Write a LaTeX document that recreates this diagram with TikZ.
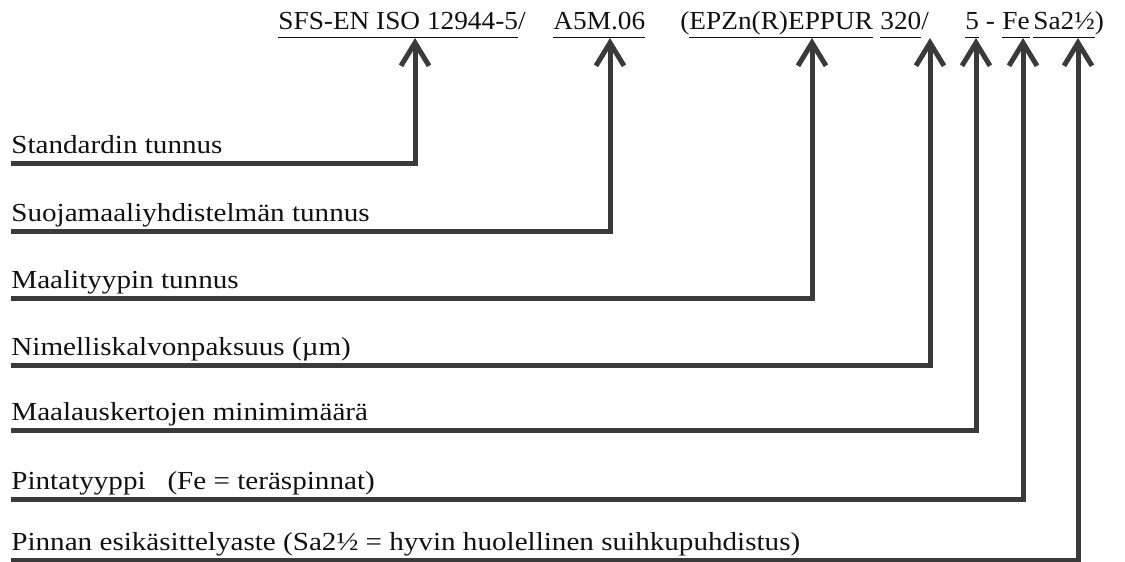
\documentclass[tikz,border=0pt]{standalone}
\usepackage{fontspec}
\setmainfont{Liberation Serif}[FakeStretch=1.12]
\newfontfamily\codefont{Liberation Serif}[FakeStretch=1.05]
\usetikzlibrary{arrows.meta}
\definecolor{ink}{HTML}{111111}
\definecolor{leadgray}{HTML}{3A3A3A}
\newsavebox{\ulbox}
\newcommand{\uln}[1]{\sbox{\ulbox}{#1}\rlap{\rule[-4pt]{\wd\ulbox}{0.5pt}}\usebox{\ulbox}}

\begin{document}
\begin{tikzpicture}[
  x=0.5pt,y=-0.5pt,
  font=\fontsize{13pt}{15pt}\selectfont,
  >={Straight Barb[length=11.5pt,width=14pt]},
  codepart/.style={anchor=base west,inner sep=0pt,text=ink,
                   font=\codefont\fontsize{13pt}{15pt}\selectfont},
  desc/.style={anchor=base west,inner sep=0pt,text=ink},
  lead/.style={->,line width=2.5pt,draw=leadgray,line join=miter}
]
\useasboundingbox (0,0) rectangle (1125,562);

% Designation
\node[codepart] (std)  at (278,30)  {\uln{SFS-EN ISO 12944-5}/};
\node[codepart] (sys)  at (553,30)  {\uln{A5M.06}};
\node[codepart] (typ)  at (680,30)  {(\uln{EPZn(R)EPPUR}};
\node[codepart] (dft)  at (880,30)  {\uln{320}/};
\node[codepart] (cnt)  at (965,30)  {\uln{5} -};
\node[codepart] (surf) at (1002,30) {\uln{Fe}};
\node[codepart] (prep) at (1033,30) {\uln{Sa2½})};

% Arrow tips under the parts
\coordinate (t1) at (415,38);
\coordinate (t2) at (610,38);
\coordinate (t3) at (812,38);
\coordinate (t4) at (930,38);
\coordinate (t5) at (976,38);
\coordinate (t6) at (1023,38);
\coordinate (t7) at (1078,38);

% Explanations
\node[desc] (d1) at (11,153) {Standardin tunnus};
\node[desc] (d2) at (11,221) {Suojamaaliyhdistelmän tunnus};
\node[desc] (d3) at (11,288) {Maalityypin tunnus};
\node[desc] (d4) at (11,355) {Nimelliskalvonpaksuus (µm)};
\node[desc] (d5) at (11,420) {Maalauskertojen minimimäärä};
\node[desc] (d6) at (11,489) {Pintatyyppi\ \ \ (Fe = teräspinnat)};
\node[desc] (d7) at (11,550) {Pinnan esikäsittelyaste (Sa2½ = hyvin huolellinen suihkupuhdistus)};

% Leaders
\draw[lead] ([yshift=-5pt]d1.base west) -| (t1);
\draw[lead] ([yshift=-5pt]d2.base west) -| (t2);
\draw[lead] ([yshift=-5pt]d3.base west) -| (t3);
\draw[lead] ([yshift=-5pt]d4.base west) -| (t4);
\draw[lead] ([yshift=-5pt]d5.base west) -| (t5);
\draw[lead] ([yshift=-5pt]d6.base west) -| (t6);
\draw[lead] ([yshift=-5pt]d7.base west) -| (t7);

\end{tikzpicture}
\end{document}
